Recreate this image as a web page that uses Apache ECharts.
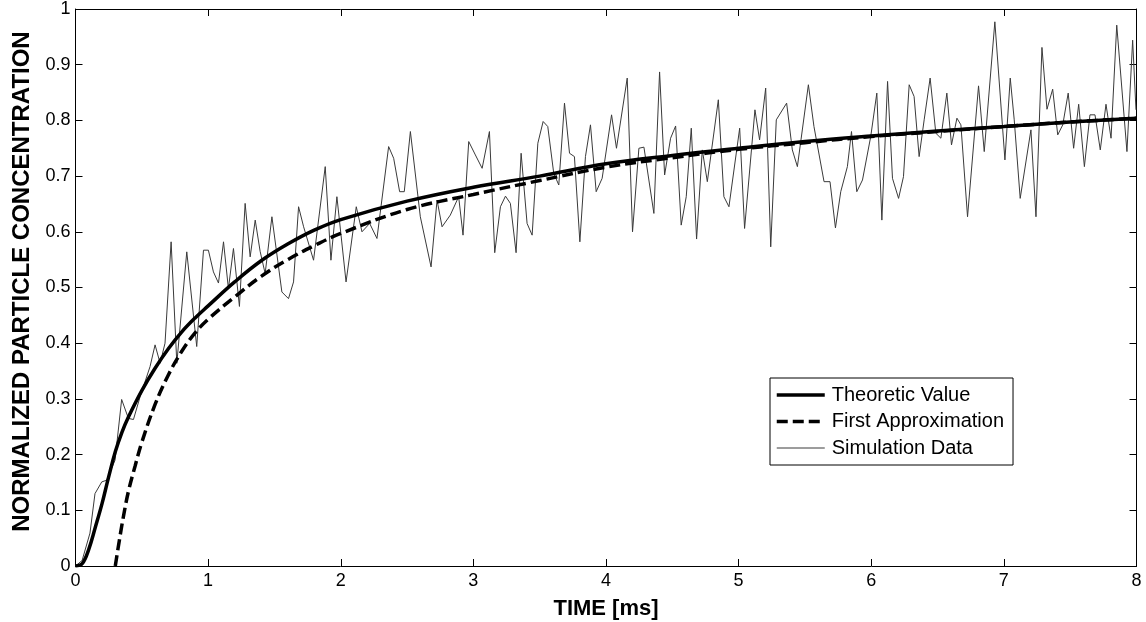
<!DOCTYPE html>
<html><head><meta charset="utf-8">
<script src="https://cdn.jsdelivr.net/npm/echarts@6/dist/echarts.min.js"></script>
<style>html,body{margin:0;padding:0;background:#fff}#c{width:1146px;height:622px}</style>
</head><body><div id="c"></div>
<script>
// Theoretic value
const theoT = [0, 0.05, 0.1, 0.15, 0.2, 0.25, 0.3, 0.35, 0.4, 0.5, 0.6, 0.7, 0.8, 0.9, 1.0, 1.2, 1.4, 1.6, 1.8, 2.0, 2.5, 3.0, 3.5, 4.0, 4.5, 5.0, 5.5, 6.0, 6.5, 7.0, 7.5, 8.0];
const theoV = [0, 0.004, 0.03, 0.07, 0.112, 0.16, 0.205, 0.24, 0.268, 0.315, 0.355, 0.39, 0.42, 0.445, 0.467, 0.51, 0.548, 0.578, 0.603, 0.622, 0.655, 0.68, 0.700, 0.722, 0.737, 0.750, 0.762, 0.772, 0.781, 0.789, 0.797, 0.804];
// First approximation
const approxT = [0.3, 0.33, 0.36, 0.4, 0.45, 0.5, 0.6, 0.7, 0.8, 0.9, 1.0, 1.2, 1.4, 1.6, 1.8, 2.0, 2.5, 3.0, 3.5, 4.0, 4.5, 5.0, 5.5, 6.0, 6.5, 7.0, 7.5, 8.0];
const approxV = [0, 0.045, 0.087, 0.135, 0.18, 0.222, 0.29, 0.343, 0.385, 0.418, 0.443, 0.483, 0.52, 0.55, 0.575, 0.597, 0.64, 0.667, 0.692, 0.716, 0.733, 0.748, 0.760, 0.771, 0.780, 0.789, 0.797, 0.804];
// Simulation data
const simT = [0, 0.05, 0.109, 0.147, 0.198, 0.235, 0.298, 0.348, 0.399, 0.437, 0.487, 0.562, 0.6, 0.638, 0.675, 0.721, 0.764, 0.839, 0.914, 0.965, 1.002, 1.04, 1.078, 1.116, 1.153, 1.191, 1.236, 1.279, 1.317, 1.355, 1.392, 1.43, 1.481, 1.556, 1.606, 1.644, 1.682, 1.72, 1.795, 1.883, 1.926, 1.971, 2.04, 2.117, 2.16, 2.218, 2.273, 2.361, 2.399, 2.444, 2.479, 2.525, 2.6, 2.681, 2.726, 2.764, 2.826, 2.889, 2.922, 2.965, 3.015, 3.066, 3.121, 3.161, 3.204, 3.242, 3.279, 3.322, 3.36, 3.405, 3.443, 3.486, 3.526, 3.561, 3.606, 3.644, 3.687, 3.725, 3.762, 3.803, 3.845, 3.883, 3.926, 3.971, 4.042, 4.079, 4.16, 4.2, 4.248, 4.286, 4.361, 4.404, 4.442, 4.487, 4.525, 4.567, 4.605, 4.643, 4.683, 4.726, 4.764, 4.847, 4.889, 4.927, 5.008, 5.045, 5.123, 5.158, 5.204, 5.242, 5.284, 5.362, 5.405, 5.443, 5.526, 5.568, 5.644, 5.689, 5.73, 5.77, 5.82, 5.851, 5.891, 5.934, 5.996, 6.042, 6.08, 6.123, 6.16, 6.206, 6.243, 6.286, 6.323, 6.361, 6.399, 6.444, 6.487, 6.525, 6.57, 6.605, 6.646, 6.676, 6.726, 6.809, 6.852, 6.932, 7.008, 7.048, 7.078, 7.123, 7.204, 7.242, 7.287, 7.325, 7.368, 7.406, 7.444, 7.485, 7.526, 7.564, 7.607, 7.649, 7.687, 7.727, 7.77, 7.808, 7.851, 7.928, 7.971, 7.996];
const simV = [0, 0.01, 0.059, 0.13, 0.151, 0.154, 0.19, 0.299, 0.265, 0.263, 0.304, 0.358, 0.397, 0.364, 0.4, 0.582, 0.364, 0.564, 0.394, 0.567, 0.567, 0.528, 0.508, 0.582, 0.498, 0.57, 0.466, 0.651, 0.555, 0.621, 0.565, 0.525, 0.627, 0.492, 0.48, 0.51, 0.645, 0.609, 0.549, 0.717, 0.549, 0.663, 0.51, 0.645, 0.6, 0.615, 0.588, 0.753, 0.732, 0.672, 0.672, 0.78, 0.627, 0.537, 0.657, 0.609, 0.63, 0.663, 0.594, 0.762, 0.738, 0.714, 0.78, 0.5625, 0.645, 0.664, 0.651, 0.5625, 0.741, 0.615, 0.594, 0.759, 0.798, 0.789, 0.705, 0.684, 0.831, 0.741, 0.735, 0.582, 0.735, 0.792, 0.672, 0.696, 0.81, 0.75, 0.876, 0.60, 0.75, 0.752, 0.633, 0.887, 0.702, 0.768, 0.79, 0.612, 0.663, 0.786, 0.587, 0.747, 0.69, 0.837, 0.663, 0.645, 0.786, 0.606, 0.819, 0.765, 0.858, 0.573, 0.801, 0.831, 0.747, 0.717, 0.864, 0.789, 0.69, 0.69, 0.607, 0.672, 0.717, 0.78, 0.672, 0.693, 0.771, 0.849, 0.621, 0.87, 0.696, 0.66, 0.699, 0.864, 0.843, 0.735, 0.801, 0.876, 0.777, 0.768, 0.849, 0.756, 0.804, 0.792, 0.627, 0.862, 0.744, 0.977, 0.729, 0.876, 0.801, 0.66, 0.783, 0.627, 0.931, 0.82, 0.856, 0.774, 0.792, 0.849, 0.75, 0.829, 0.717, 0.81, 0.81, 0.747, 0.829, 0.768, 0.971, 0.744, 0.944, 0.819];
// Axis ticks
const xTicks = [0, 1, 2, 3, 4, 5, 6, 7, 8];
const yTicks = [0, 0.1, 0.2, 0.3, 0.4, 0.5, 0.6, 0.7, 0.8, 0.9, 1];

const pairs = (a, b) => a.map((t, i) => [t, b[i]]);
const FONT = '"Liberation Sans", Arial, sans-serif';

const baseX = {
  type: 'value', min: xTicks[0], max: xTicks[xTicks.length - 1], interval: 1,
  axisLine: { show: true, onZero: false, lineStyle: { color: '#000', width: 1 } },
  axisTick: { show: true, inside: true, length: 7, lineStyle: { color: '#000' } },
  splitLine: { show: false }
};
const baseY = {
  type: 'value', min: yTicks[0], max: yTicks[yTicks.length - 1], interval: 0.1,
  axisLine: { show: true, onZero: false, lineStyle: { color: '#000', width: 1 } },
  axisTick: { show: true, inside: true, length: 7, lineStyle: { color: '#000' } },
  splitLine: { show: false }
};

const chart = echarts.init(document.getElementById('c'), null, { renderer: 'canvas' });
chart.setOption({
  animation: false,
  backgroundColor: '#fff',
  grid: { left: 75.5, right: 9.5, top: 9, bottom: 56, containLabel: false, outerBoundsMode: 'none' },
  xAxis: [
    Object.assign({}, baseX, {
      position: 'bottom',
      name: 'TIME [ms]', nameLocation: 'middle', nameGap: 32,
      nameTextStyle: { fontFamily: FONT, fontWeight: 'bold', fontSize: 22, color: '#000' },
      axisLabel: { show: true, margin: 6, fontFamily: FONT, fontSize: 18, color: '#000',
        formatter: v => String(v) }
    }),
    Object.assign({}, baseX, { position: 'top', axisLabel: { show: false } })
  ],
  yAxis: [
    Object.assign({}, baseY, {
      position: 'left',
      name: 'NORMALIZED PARTICLE CONCENTRATION', nameLocation: 'middle', nameGap: 41, nameRotate: 90,
      nameTextStyle: { fontFamily: FONT, fontWeight: 'bold', fontSize: 24, color: '#000', padding: [0, 0, 0, 12] },
      axisLabel: { show: true, margin: 5, fontFamily: FONT, fontSize: 18, color: '#000',
        formatter: v => String(Math.round(v * 10) / 10) }
    }),
    Object.assign({}, baseY, { position: 'right', axisLabel: { show: false } })
  ],
  legend: {
    orient: 'vertical', left: 770, top: 378,
    data: [
      { name: 'Theoretic Value', lineStyle: { width: 3.5 } },
      { name: 'First Approximation', lineStyle: { width: 3.5 } },
      { name: 'Simulation Data', lineStyle: { width: 1 } }
    ],
    itemStyle: { color: 'rgba(0,0,0,0)', borderWidth: 0, opacity: 0 },
    backgroundColor: '#fff', borderColor: '#000', borderWidth: 1,
    padding: [7, 9, 7, 5], itemWidth: 48, itemHeight: 20, itemGap: 6.5,
    textStyle: { fontFamily: FONT, fontSize: 20, color: '#000', padding: [0, 0, 0, 2] }
  },
  series: [
    {
      name: 'Simulation Data', type: 'line', data: pairs(simT, simV), symbol: 'none', z: 1,
      lineStyle: { color: '#3a3a3a', width: 1 }, itemStyle: { color: '#3a3a3a' }
    },
    {
      name: 'First Approximation', type: 'line', data: pairs(approxT, approxV), symbol: 'none', smooth: 0.4, z: 2,
      lineStyle: { color: '#000', width: 3.5, type: [11, 5] }, itemStyle: { color: '#000' }
    },
    {
      name: 'Theoretic Value', type: 'line', data: pairs(theoT, theoV), symbol: 'none', smooth: 0.4, z: 3,
      lineStyle: { color: '#000', width: 3.5 }, itemStyle: { color: '#000' }
    }
  ]
});
</script>
</body></html>
